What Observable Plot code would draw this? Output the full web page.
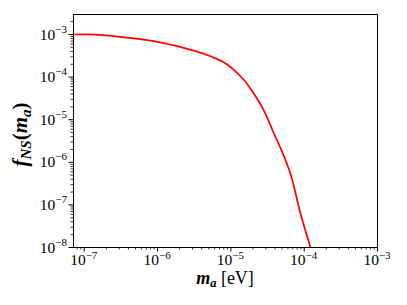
<!DOCTYPE html>
<html><head><meta charset="utf-8">
<script src="https://cdn.jsdelivr.net/npm/d3@7"></script>
<script src="https://cdn.jsdelivr.net/npm/@observablehq/plot@0.6"></script>
<style>html,body{margin:0;padding:0;background:#fff;} svg{display:block} .lbl, .lbl tspan{font-family:"Liberation Serif","DejaVu Serif",serif !important;}</style>
</head><body><div id="chart"></div>
<script>
// Axion mass m_a [eV]
const massEV = [7.13e-8, 1.42e-7, 4.01e-7, 1.17e-6, 3.29e-6, 5.61e-6, 7.67e-6, 1.05e-5, 1.49e-5, 2.03e-5, 2.79e-5, 3.81e-5, 4.75e-5, 6.50e-5, 8.91e-5, 1.22e-4];
// f_NS(m_a)
const fNS = [1.0e-3, 9.95e-4, 8.37e-4, 6.39e-4, 4.06e-4, 2.96e-4, 2.32e-4, 1.59e-4, 8.79e-5, 4.24e-5, 1.70e-5, 5.01e-6, 2.17e-6, 5.37e-7, 6.28e-8, 1.0e-8];

const massTicks = [1e-7, 1e-6, 1e-5, 1e-4, 1e-3];
const massTickExp = ["\u22127", "\u22126", "\u22125", "\u22124", "\u22123"];
const fracTicks = [1e-8, 1e-7, 1e-6, 1e-5, 1e-4, 1e-3];
const fracTickExp = ["\u22128", "\u22127", "\u22126", "\u22125", "\u22124", "\u22123"];
const xDomain = [7.13e-8, 1e-3];
const yDomain = [1e-8, 2.95e-3];

const data = massEV.map((m, i) => ({m, f: fNS[i]}));
const minor = (lo, hi) => {
  const out = [];
  for (let e = Math.floor(Math.log10(lo)); e <= Math.ceil(Math.log10(hi)); e++)
    for (let k = 2; k <= 9; k++) { const v = k * 10 ** e; if (v >= lo && v <= hi) out.push(v); }
  return out;
};

const W = 407, H = 305, mL = 73, mR = 30, mT = 14, mB = 58;
const plot = Plot.plot({
  width: W, height: H, marginLeft: mL, marginRight: mR, marginTop: mT, marginBottom: mB,
  style: {background: "#fff", color: "#000"},
  x: {type: "log", domain: xDomain},
  y: {type: "log", domain: yDomain},
  marks: [
    Plot.line(data, {x: "m", y: "f", stroke: "#ff0000", strokeWidth: 1.7, curve: "catmull-rom", clip: true}),
    Plot.axisX(minor(...xDomain), {tickSize: 2.5, tickFormat: () => "", label: null, strokeWidth: 0.8}),
    Plot.axisX(massTicks, {tickSize: 4.5, tickFormat: () => "", label: null, strokeWidth: 1}),
    Plot.axisY(minor(...yDomain), {tickSize: 2.5, tickFormat: () => "", label: null, strokeWidth: 0.8}),
    Plot.axisY(fracTicks, {tickSize: 4.5, tickFormat: () => "", label: null, strokeWidth: 1}),
    Plot.frame({stroke: "#000", strokeWidth: 1})
  ]
});
document.getElementById("chart").appendChild(plot);

const svg = d3.select(plot);
const sx = plot.scale("x"), sy = plot.scale("y");
const g = svg.append("g").attr("class", "lbl").attr("fill", "#000");
massTicks.forEach((v, i) => {
  const t = g.append("text").attr("x", sx.apply(v)).attr("y", H - mB + 18)
    .attr("text-anchor", "middle").style("font-size", "15.5px");
  t.append("tspan").text("10");
  t.append("tspan").style("font-size", "11px").attr("dy", -6.5).text(massTickExp[i]);
});
fracTicks.forEach((v, i) => {
  const t = g.append("text").attr("x", mL - 6).attr("y", sy.apply(v) + 5.5)
    .attr("text-anchor", "end").style("font-size", "15.5px");
  t.append("tspan").text("10");
  t.append("tspan").style("font-size", "11px").attr("dy", -7).text(fracTickExp[i]);
});
// x axis label
const xl = g.append("text").attr("x", (mL + W - mR) / 2).attr("y", H - mB + 37)
  .attr("text-anchor", "middle").style("font-size", "18px");
xl.append("tspan").style("font-weight", "bold").style("font-style", "italic").text("m");
xl.append("tspan").style("font-weight", "bold").style("font-style", "italic").style("font-size", "12.5px").attr("dy", 3).text("a");
xl.append("tspan").attr("dy", -3).text(" [eV]");
// y axis label
const yl = g.append("text").attr("transform", `translate(27,${(mT + H - mB) / 2 + 4}) rotate(-90)`)
  .attr("text-anchor", "middle").style("font-size", "21px");
yl.append("tspan").style("font-weight", "bold").style("font-style", "italic").text("f");
yl.append("tspan").style("font-weight", "bold").style("font-style", "italic").style("font-size", "15px").attr("dy", 3.5).text("NS");
yl.append("tspan").attr("dy", -3.5).style("font-weight", "bold").text("(");
yl.append("tspan").style("font-weight", "bold").style("font-style", "italic").text("m");
yl.append("tspan").style("font-weight", "bold").style("font-style", "italic").style("font-size", "15px").attr("dy", 3.5).text("a");
yl.append("tspan").attr("dy", -3.5).style("font-weight", "bold").text(")");
</script>
</body></html>
